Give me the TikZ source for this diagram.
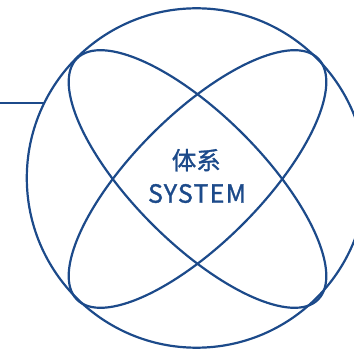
\documentclass[tikz,border=0pt]{standalone}
\usepackage{fontspec}
\newfontfamily\cjk{Noto Sans CJK SC}[FakeBold=1.3]
\newfontfamily\latn{Noto Sans CJK SC}[FakeBold=1.3, LetterSpace=5]
\usetikzlibrary{shapes.geometric,calc}
\definecolor{sysblue}{HTML}{1C4A8A}
\begin{document}
\begin{tikzpicture}[x=1pt,y=-1pt,
  ln/.style={draw=sysblue, line width=2.2pt},
  orbit/.style={ellipse, ln, minimum width=341pt, minimum height=128pt, inner sep=0pt, outer sep=0pt},
  lbl/.style={text=sysblue, inner sep=0pt, anchor=base}]
\useasboundingbox (0,0) rectangle (354,350);
\clip (0,0) rectangle (354,350);
\node[circle, ln, minimum size=339.4pt, inner sep=0pt, outer sep=0pt] (c) at (196.5,178) {};
\node[orbit, rotate=45] (e1) at (197.5,179) {};
\node[orbit, rotate=-45] (e2) at (197.5,179) {};
\coordinate (s) at (0,103.3);
\draw[ln] (s) -- ($(c.center)+(-152.4,-74.7)$);
\node[lbl, font=\cjk\fontsize{24.5}{30}\selectfont] (t1) at (196.3,169.5) {体系};
\node[lbl, font=\latn\fontsize{25}{30}\selectfont] (t2) at (197,202.7) {SYSTEM};
\end{tikzpicture}
\end{document}
